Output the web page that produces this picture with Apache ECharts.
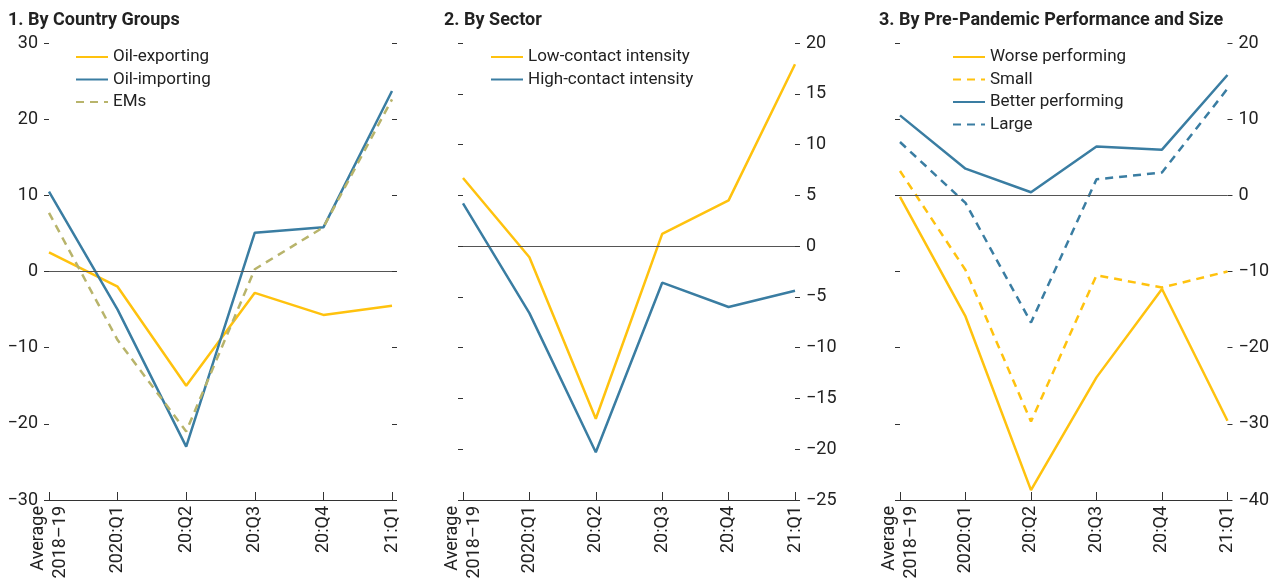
<!DOCTYPE html>
<html>
<head>
<meta charset="utf-8">
<script src="https://cdn.jsdelivr.net/npm/echarts@6/dist/echarts.min.js"></script>
<style>
  html, body { margin: 0; padding: 0; background: #fff; }
  #chart { width: 1272px; height: 582px; }
</style>
</head>
<body>
<div id="chart"></div>
<script>
  // categories shared by the three panels
  var categories = ['Average\n2018–19', '2020:Q1', '20:Q2', '20:Q3', '20:Q4', '21:Q1'];

  // panel 1: by country groups
  var oilExporting = [2.5, -2.0, -15.0, -2.8, -5.7, -4.5];
  var oilImporting = [10.5, -5.0, -23.0, 5.1, 5.8, 23.7];
  var ems = [7.7, -9.0, -21.0, 0.3, 5.8, 22.6];

  // panel 2: by sector
  var lowContact = [6.7, -1.1, -17.0, 1.2, 4.5, 17.9];
  var highContact = [4.2, -6.6, -20.3, -3.6, -6.0, -4.4];

  // panel 3: by pre-pandemic performance and size
  var worsePerforming = [-0.2, -15.9, -38.7, -23.9, -12.3, -29.6];
  var small = [3.2, -9.8, -29.7, -10.5, -12.1, -10.0];
  var betterPerforming = [10.5, 3.5, 0.4, 6.4, 6.0, 15.8];
  var large = [7.0, -1.0, -16.7, 2.1, 3.0, 14.0];

  var titles = ['1. By Country Groups', '2. By Sector', '3. By Pre-Pandemic Performance and Size'];

  var YELLOW = '#FFC20E';
  var BLUE = '#3A7DA2';
  var OLIVE = '#B8B46B';
  var AXIS = '#333';
  var FONT = "'Liberation Sans Narrow', 'Arial Narrow', 'Roboto', sans-serif";

  var myChart = echarts.init(document.getElementById('chart'));

  function fmt(v) {
    return v < 0 ? '\u2212' + Math.abs(v) : String(v);
  }

  function yAxis(gridIndex, pos, min, max, interval, labels) {
    return {
      type: 'value',
      gridIndex: gridIndex,
      position: pos,
      min: min,
      max: max,
      interval: interval,
      axisLine: { show: false },
      axisTick: { show: true, length: 5, lineStyle: { color: AXIS, width: 1 } },
      splitLine: { show: false },
      axisLabel: {
        show: labels,
        margin: 11,
        color: '#222',
        fontSize: 18,
        fontFamily: FONT,
        formatter: fmt
      }
    };
  }

  function xAxis(gridIndex) {
    return {
      type: 'category',
      gridIndex: gridIndex,
      data: categories,
      boundaryGap: false,
      axisLine: { onZero: false, lineStyle: { color: AXIS, width: 1 } },
      axisTick: { inside: true, length: 8, lineStyle: { color: AXIS } },
      axisLabel: {
        rotate: 90,
        margin: 6,
        interval: 0,
        color: '#222',
        fontSize: 18,
        lineHeight: 22,
        fontFamily: FONT
      }
    };
  }

  function line(name, data, color, dashed, axisIdx) {
    return {
      name: name,
      type: 'line',
      xAxisIndex: axisIdx,
      yAxisIndex: axisIdx * 2,
      data: data,
      symbol: 'none',
      z: 3,
      lineStyle: { color: color, width: 2.5, type: dashed ? [8, 6] : 'solid' },
      itemStyle: { color: color }
    };
  }

  function zeroLine(axisIdx) {
    return {
      type: 'line',
      xAxisIndex: axisIdx,
      yAxisIndex: axisIdx * 2,
      data: [],
      silent: true,
      z: 1,
      markLine: {
        silent: true,
        symbol: ['none', 'none'],
        label: { show: false },
        lineStyle: { color: '#555', width: 1, type: 'solid' },
        data: [{ yAxis: 0 }]
      }
    };
  }

  function legend(left, names) {
    return {
      orient: 'vertical',
      left: left,
      top: 42,
      itemWidth: 32,
      itemHeight: 14,
      itemGap: 2.5,
      data: names,
      itemStyle: { color: 'rgba(0,0,0,0)', borderWidth: 0, opacity: 0 },
      textStyle: { fontSize: 17, lineHeight: 20, color: '#222', fontFamily: FONT }
    };
  }

  var option = {
    animation: false,
    backgroundColor: '#fff',
    title: [
      { text: titles[0], left: 8, top: 11 },
      { text: titles[1], left: 444, top: 11 },
      { text: titles[2], left: 879, top: 11 }
    ].map(function (t) {
      t.padding = 0;
      t.textStyle = { fontSize: 18, fontWeight: 'bold', color: '#222', fontFamily: FONT };
      return t;
    }),
    legend: [
      legend(70, ['Oil-exporting', 'Oil-importing', 'EMs']),
      legend(485, ['Low-contact intensity', 'High-contact intensity']),
      legend(947, ['Worse performing', 'Small', 'Better performing', 'Large'])
    ],
    grid: [
      { left: 49, top: 43, width: 343, height: 457 },
      { left: 463, top: 43, width: 332, height: 457 },
      { left: 900, top: 43, width: 329, height: 457 }
    ],
    xAxis: [xAxis(0), xAxis(1), xAxis(2)],
    yAxis: [
      yAxis(0, 'left', -30, 30, 10, true),
      yAxis(0, 'right', -30, 30, 10, false),
      yAxis(1, 'left', -25, 20, 5, false),
      yAxis(1, 'right', -25, 20, 5, true),
      yAxis(2, 'left', -40, 20, 10, false),
      yAxis(2, 'right', -40, 20, 10, true)
    ],
    series: [
      zeroLine(0),
      zeroLine(1),
      zeroLine(2),
      line('Oil-exporting', oilExporting, YELLOW, false, 0),
      line('Oil-importing', oilImporting, BLUE, false, 0),
      line('EMs', ems, OLIVE, true, 0),
      line('Low-contact intensity', lowContact, YELLOW, false, 1),
      line('High-contact intensity', highContact, BLUE, false, 1),
      line('Worse performing', worsePerforming, YELLOW, false, 2),
      line('Small', small, YELLOW, true, 2),
      line('Better performing', betterPerforming, BLUE, false, 2),
      line('Large', large, BLUE, true, 2)
    ]
  };

  myChart.setOption(option);
</script>
</body>
</html>
